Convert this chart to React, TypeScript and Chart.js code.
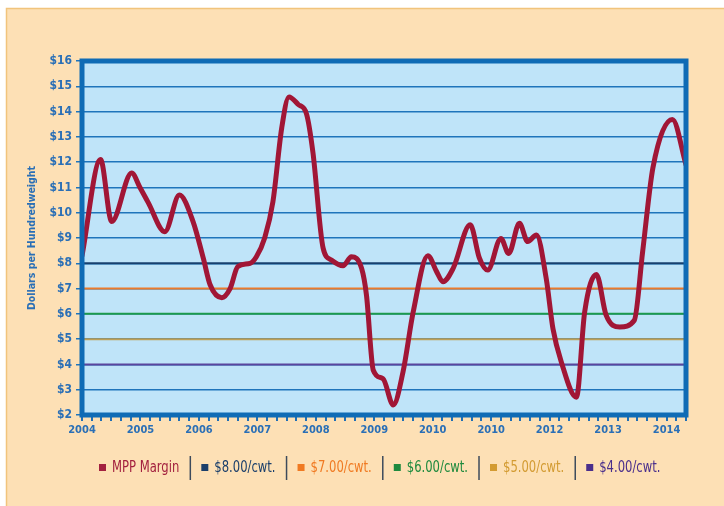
import React, { useEffect, useRef } from "react";
import { Chart, registerables } from "chart.js";
Chart.register(...registerables);

// ---- data ----
const yearLabels = ["2004", "2005", "2006", "2007", "2008", "2009", "2010", "2010", "2012", "2013", "2014"];
// months since Jan 2004
const monthIndex = [
  0, 3.8, 6.1, 10.2, 11.9, 13.6, 17, 20, 22.8, 24.9, 26.3, 28.7, 30.4, 32, 34.5, 35.8, 37.5, 39.2, 41, 42.5,
  44.4, 46.1, 47.4, 49.5, 51.2, 53.6, 55.3, 57.4, 58.4, 59.8, 61.8, 63.9, 65.9, 68, 71, 72.8, 74.1, 76.2,
  79.7, 81.6, 83.3, 86, 87.6, 89.8, 91.5, 93.3, 95.3, 96.7, 98.4, 101.5, 103.2, 105.6, 107.6, 110.4, 113.4,
  115.1, 117.2, 121.2, 124,
];
const mppMargin = [
  8.3, 12.1, 9.65, 11.57, 11.0, 10.4, 9.25, 10.7, 9.65, 8.2, 7.15, 6.64, 7.0, 7.87, 8.0, 8.26, 9.0, 10.44,
  13.35, 14.58, 14.28, 13.9, 12.4, 8.6, 8.13, 7.9, 8.26, 7.8, 6.74, 3.77, 3.43, 2.4, 3.7, 6.08, 8.3, 7.67,
  7.27, 7.8, 9.52, 8.2, 7.73, 8.98, 8.39, 9.58, 8.86, 9.12, 7.4, 5.4, 4.1, 2.7, 6.08, 7.56, 5.95, 5.48, 5.75,
  8.46, 11.77, 13.69, 11.9,
];
const seriesLabel = "MPP Margin";
const thresholdLabels = ["$8.00/cwt.", "$7.00/cwt.", "$6.00/cwt.", "$5.00/cwt.", "$4.00/cwt."];
const thresholdValues = [8, 7, 6, 5, 4];
const thresholdLineColors = ["#17406e", "#ea7a2c", "#1c9a4c", "#bd9f57", "#5a459d"];
const legendColors = ["#a3213f", "#1b3f6b", "#f07a22", "#1f8a3e", "#d39b32", "#4a2f8c"];
const xMin = 0;
const xMax = 124;
const yMin = 2;
const yMax = 16;

const FONT = "'DejaVu Sans Condensed', 'Liberation Sans Narrow', 'Liberation Sans', sans-serif";
const AXIS_BLUE = "#2a6fb6";

const bgPlugin = {
  id: "bg",
  beforeDraw(chart: any) {
    const ctx = chart.ctx;
    const { width, height, chartArea } = chart;
    ctx.save();
    ctx.fillStyle = "#ffffff";
    ctx.fillRect(0, 0, width, height);
    ctx.fillStyle = "#fde0b5";
    ctx.fillRect(6, 8, width - 6, height - 8);
    ctx.strokeStyle = "#f1c47c";
    ctx.lineWidth = 1.5;
    ctx.beginPath();
    ctx.moveTo(6.5, height);
    ctx.lineTo(6.5, 8.5);
    ctx.lineTo(width, 8.5);
    ctx.stroke();
    ctx.fillStyle = "#bfe4f9";
    ctx.fillRect(chartArea.left, chartArea.top, chartArea.right - chartArea.left, chartArea.bottom - chartArea.top);
    ctx.restore();
  },
};

const framePlugin = {
  id: "frame",
  afterDatasetsDraw(chart: any) {
    const ctx = chart.ctx;
    const a = chart.chartArea;
    ctx.save();
    ctx.strokeStyle = "#0f6bb5";
    ctx.lineWidth = 5;
    ctx.strokeRect(a.left, a.top, a.right - a.left, a.bottom - a.top);
    ctx.restore();
  },
};

const legendPlugin = {
  id: "customLegend",
  afterDraw(chart: any) {
    const ctx = chart.ctx;
    const sx = 0.86;
    ctx.save();
    ctx.font = `15px ${FONT}`;
    ctx.textBaseline = "middle";
    const cy = 468;
    let x = 99;
    const ds = chart.data.datasets;
    ds.forEach((d: any, i: number) => {
      const color = legendColors[i];
      ctx.fillStyle = color;
      ctx.fillRect(x, cy - 4, 7, 7);
      x += 7 + 6;
      ctx.save();
      ctx.translate(x, cy);
      ctx.scale(sx, 1);
      ctx.fillText(d.label, 0, 0);
      ctx.restore();
      x += ctx.measureText(d.label).width * sx;
      if (i < ds.length - 1) {
        x += 11;
        ctx.strokeStyle = "#3d4b5c";
        ctx.lineWidth = 1.5;
        ctx.beginPath();
        ctx.moveTo(x, cy - 12);
        ctx.lineTo(x, cy + 12);
        ctx.stroke();
        x += 11;
      }
    });
    ctx.restore();
  },
};

export default function App() {
  const ref = useRef<HTMLCanvasElement | null>(null);
  useEffect(() => {
    if (!ref.current) return;
    const marginData = monthIndex.map((m, i) => ({ x: m, y: mppMargin[i] }));
    const thresholdSets = thresholdValues.map((v, i) => ({
      label: thresholdLabels[i],
      data: [
        { x: xMin, y: v },
        { x: xMax, y: v },
      ],
      borderColor: thresholdLineColors[i],
      borderWidth: 2,
      pointRadius: 0,
      order: 2,
    }));
    const chart = new Chart(ref.current, {
      type: "line",
      data: {
        datasets: [
          {
            label: seriesLabel,
            data: marginData,
            borderColor: "#a11636",
            borderWidth: 5,
            pointRadius: 0,
            cubicInterpolationMode: "monotone",
            borderCapStyle: "round",
            borderJoinStyle: "round",
            order: 0,
          },
          ...thresholdSets,
        ] as any,
      },
      options: {
        responsive: false,
        animation: false,
        layout: { padding: { left: 20, right: 38, top: 61, bottom: 61 } },
        plugins: { legend: { display: false }, tooltip: { enabled: false } },
        scales: {
          x: {
            type: "linear",
            min: xMin,
            max: xMax,
            afterFit(scale: any) {
              scale.height = 30;
            },
            border: { display: false },
            grid: {
              drawOnChartArea: false,
              drawTicks: true,
              tickLength: 6,
              color: "#1f6fb6",
              lineWidth: 2,
            },
            ticks: {
              stepSize: 2,
              autoSkip: false,
              maxRotation: 0,
              padding: 3,
              color: AXIS_BLUE,
              font: { family: FONT, size: 11, weight: "bold" },
              callback: (v: any) => (Number(v) % 12 === 0 ? yearLabels[Number(v) / 12] ?? "" : ""),
            },
          },
          y: {
            min: yMin,
            max: yMax,
            afterFit(scale: any) {
              scale.width = 62;
            },
            border: { display: false },
            grid: {
              color: "#1f74bb",
              lineWidth: 1.5,
              drawTicks: true,
              tickLength: 6,
            },
            ticks: {
              stepSize: 1,
              padding: 4,
              color: AXIS_BLUE,
              font: { family: FONT, size: 12, weight: "bold" },
              callback: (v: any) => "$" + v,
            },
            title: {
              display: true,
              text: "Dollars per Hundredweight",
              color: AXIS_BLUE,
              font: { family: FONT, size: 10.5, weight: "bold" },
              padding: { top: 6, bottom: 0 },
            },
          },
        },
      },
      plugins: [bgPlugin, framePlugin, legendPlugin],
    } as any);
    return () => chart.destroy();
  }, []);
  return (
    <div style={{ position: "fixed", left: 0, top: 0, width: 724, height: 506 }}>
      <canvas ref={ref} width={724} height={506} style={{ display: "block" }} />
    </div>
  );
}
